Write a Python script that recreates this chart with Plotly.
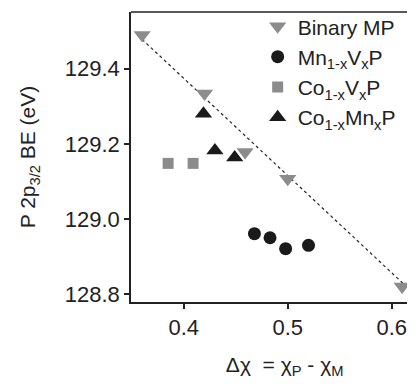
import plotly.graph_objects as go

# Data
binary_x = [0.360, 0.420, 0.459, 0.500, 0.610]
binary_y = [129.49, 129.334, 129.178, 129.107, 128.82]

mnv_x = [0.468, 0.483, 0.498, 0.520]
mnv_y = [128.961, 128.950, 128.921, 128.930]

cov_x = [0.385, 0.409]
cov_y = [129.148, 129.148]

comn_x = [0.419, 0.430, 0.449]
comn_y = [129.280, 129.182, 129.164]

fit_x = [0.360, 0.625]
fit_y = [129.478, 128.792]

xticks = [0.4, 0.5, 0.6]
yticks = [128.8, 129.0, 129.2, 129.4]

GRAY = "#8c8c8c"
BLACK = "#1a1a1a"
FONT = "Liberation Sans, Arial, sans-serif"

fig = go.Figure()
fig.add_trace(go.Scatter(x=fit_x, y=fit_y, mode="lines",
                         line=dict(color="#222222", width=1.2, dash="3px,3px"),
                         showlegend=False, hoverinfo="skip"))
fig.add_trace(go.Scatter(x=binary_x, y=binary_y, mode="markers", name="Binary MP",
                         marker=dict(symbol="triangle-down", size=15, color=GRAY)))
fig.add_trace(go.Scatter(x=mnv_x, y=mnv_y, mode="markers", name="Mn<sub>1-x</sub>V<sub>x</sub>P",
                         marker=dict(symbol="circle", size=13, color=BLACK)))
fig.add_trace(go.Scatter(x=cov_x, y=cov_y, mode="markers", name="Co<sub>1-x</sub>V<sub>x</sub>P",
                         marker=dict(symbol="square", size=11, color=GRAY)))
fig.add_trace(go.Scatter(x=comn_x, y=comn_y, mode="markers", name="Co<sub>1-x</sub>Mn<sub>x</sub>P",
                         marker=dict(symbol="triangle-up", size=15, color=BLACK)))

fig.update_layout(
    template="none",
    width=407, height=376,
    margin=dict(l=123, r=0, t=4, b=82, autoexpand=False),
    paper_bgcolor="white", plot_bgcolor="white",
    font=dict(family=FONT, size=21, color="#222222"),
    showlegend=True,
    legend=dict(x=0.446, y=1.02, xanchor="left", yanchor="top",
                bgcolor="rgba(0,0,0,0)", font=dict(size=21),
                itemwidth=30, tracegroupgap=0),
    xaxis=dict(range=[0.3493, 0.6224], tickvals=xticks, ticktext=[f"{v:.1f}" for v in xticks],
               automargin=False,
               showgrid=False, zeroline=False, showline=True, linecolor="#222222", linewidth=1.5,
               ticks="outside", ticklen=5, tickwidth=1.5, tickcolor="#222222",
               tickfont=dict(size=22),
               title=dict(text="&nbsp;&nbsp;&nbsp;&nbsp;Δχ  = χ<sub>P</sub> - χ<sub>M</sub>",
                          font=dict(size=21), standoff=18)),
    yaxis=dict(range=[128.779, 129.551], tickvals=yticks, ticktext=[f"{v:.1f}" for v in yticks],
               automargin=False,
               showgrid=False, zeroline=False, showline=True, linecolor="#222222", linewidth=1.5,
               ticks="outside", ticklen=5, tickwidth=1.5, tickcolor="#222222",
               tickfont=dict(size=22),
               title=dict(text="P 2p<sub>3/2</sub> BE (eV)", font=dict(size=21), standoff=23)),
    shapes=[dict(type="line", xref="paper", yref="paper", x0=0, x1=1, y0=1, y1=1,
                 layer="above", line=dict(color="#222222", width=1.5))],
)

fig.write_html("out.html")
